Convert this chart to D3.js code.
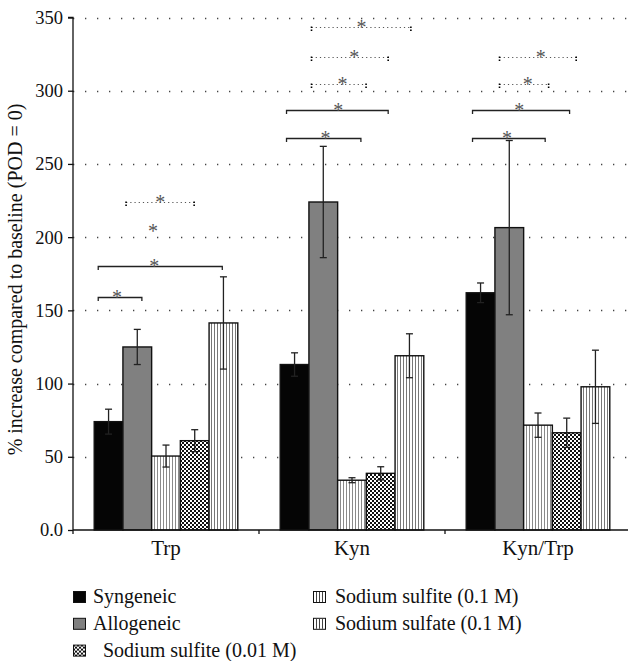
<!DOCTYPE html>
<html>
<head>
<meta charset="utf-8">
<script src="https://cdn.jsdelivr.net/npm/d3@7"></script>
<style>
  body { margin: 0; background: #fff; }
</style>
</head>
<body>
<div class="graph"></div>
<script>
const width = 628;
const height = 661;
const serif = "'Liberation Serif', 'Times New Roman', Times, 'DejaVu Serif', serif";

// data
const categories = ["Trp", "Kyn", "Kyn/Trp"];
const seriesNames = ["Syngeneic", "Allogeneic", "Sodium sulfite (0.1 M)", "Sodium sulfite (0.01 M)", "Sodium sulfate (0.1 M)"];
const syngeneic = [74, 113, 162];
const allogeneic = [125, 224, 206.5];
const sulfite01 = [50.5, 34, 71.6];
const sulfite001 = [61, 38.7, 66.4];
const sulfate = [141.4, 119, 97.8];
const syngeneicErr = [8.5, 8, 6.7];
const allogeneicErr = [12, 38, 59.5];
const sulfite01Err = [7.5, 1.7, 8.3];
const sulfite001Err = [7.5, 4.5, 10];
const sulfateErr = [31.5, 15, 25];
const yTicks = [0, 50, 100, 150, 200, 250, 300, 350];
const yTickLabels = ["0.0", "50", "100", "150", "200", "250", "300", "350"];

// significance marks: category, from bar, to bar (in bar widths), level, star position, line style
const brackets = [
  ["Trp", 0.14, 1.66, 159, 0.79, "solid"],
  ["Trp", 0.14, 4.46, 180.5, 2.09, "solid"],
  ["Trp", null, null, 204.5, 2.05, "none"],
  ["Trp", 1.11, 3.48, 224, 2.3, "dotted"],
  ["Kyn", 0.22, 2.81, 268, 1.58, "solid"],
  ["Kyn", 0.22, 3.76, 286.5, 2.02, "solid"],
  ["Kyn", 1.09, 2.99, 304.5, 2.17, "dotted"],
  ["Kyn", 1.09, 3.76, 323, 2.58, "dotted"],
  ["Kyn", 1.09, 4.55, 343.6, 2.83, "dotted"],
  ["Kyn/Trp", 0.22, 2.75, 268, 1.42, "solid"],
  ["Kyn/Trp", 0.22, 3.6, 286.5, 1.85, "solid"],
  ["Kyn/Trp", 1.16, 2.87, 304.5, 2.14, "dotted"],
  ["Kyn/Trp", 1.16, 3.83, 323, 2.6, "dotted"]
];

const means = [syngeneic, allogeneic, sulfite01, sulfite001, sulfate];
const errs = [syngeneicErr, allogeneicErr, sulfite01Err, sulfite001Err, sulfateErr];
const fills = ["#050505", "#808080", "url(#stripeA)", "url(#checker)", "url(#stripeB)"];

const rows = [];
categories.forEach((c, ci) => {
  seriesNames.forEach((s, si) => {
    rows.push({ cat: c, series: s, si: si, value: means[si][ci], err: errs[si][ci] });
  });
});

const svg = d3.select(".graph")
  .append("svg")
  .attr("width", width)
  .attr("height", height);

const defs = svg.append("defs");
const stripeA = defs.append("pattern").attr("id", "stripeA")
  .attr("patternUnits", "userSpaceOnUse").attr("width", 3).attr("height", 10);
stripeA.append("rect").attr("width", 3).attr("height", 10).attr("fill", "#fff");
stripeA.append("rect").attr("x", 1).attr("width", 1).attr("height", 10).attr("fill", "#8a8a8a");
const stripeB = defs.append("pattern").attr("id", "stripeB")
  .attr("patternUnits", "userSpaceOnUse").attr("width", 3).attr("height", 10);
stripeB.append("rect").attr("width", 3).attr("height", 10).attr("fill", "#fff");
stripeB.append("rect").attr("x", 1).attr("width", 1).attr("height", 10).attr("fill", "#777");
const checker = defs.append("pattern").attr("id", "checker")
  .attr("patternUnits", "userSpaceOnUse").attr("width", 4).attr("height", 4);
checker.append("rect").attr("width", 4).attr("height", 4).attr("fill", "#fff");
checker.append("rect").attr("width", 2).attr("height", 2).attr("fill", "#111");
checker.append("rect").attr("x", 2).attr("y", 2).attr("width", 2).attr("height", 2).attr("fill", "#111");

const y = d3.scaleLinear()
  .domain([0, 350])
  .range([530, 17.5]);

const x0 = d3.scaleBand()
  .domain(categories)
  .range([73, 631])
  .paddingInner(0.228)
  .paddingOuter(0.114);

const x1 = d3.scaleBand()
  .domain(seriesNames)
  .range([0, x0.bandwidth()]);

const unit = x1.bandwidth();

// dotted grid
svg.append("g")
  .selectAll("line")
  .data(yTicks.slice(1))
  .enter().append("line")
  .attr("x1", 73).attr("x2", 628)
  .attr("y1", d => Math.round(y(d)) + 0.5)
  .attr("y2", d => Math.round(y(d)) + 0.5)
  .attr("stroke", "#444")
  .attr("stroke-width", 1.3)
  .attr("stroke-dasharray", "1.3,10.7");

// bars
svg.append("g")
  .selectAll("rect")
  .data(rows)
  .enter().append("rect")
  .attr("x", d => x0(d.cat) + x1(d.series))
  .attr("y", d => y(d.value))
  .attr("width", unit)
  .attr("height", d => y(0) - y(d.value))
  .attr("fill", d => fills[d.si])
  .attr("stroke", "#111")
  .attr("stroke-width", 1.4);

// error bars
const eb = svg.append("g").attr("stroke", "#222").attr("stroke-width", 1.3);
rows.forEach(d => {
  const cx = x0(d.cat) + x1(d.series) + unit / 2;
  const top = y(d.value + d.err), bot = y(d.value - d.err);
  eb.append("line").attr("x1", cx).attr("x2", cx).attr("y1", top).attr("y2", bot);
  eb.append("line").attr("x1", cx - 3.5).attr("x2", cx + 3.5).attr("y1", top).attr("y2", top);
  eb.append("line").attr("x1", cx - 3.5).attr("x2", cx + 3.5).attr("y1", bot).attr("y2", bot);
});

// significance brackets
const sig = svg.append("g");
brackets.forEach(([cat, from, to, level, star, style]) => {
  const by = Math.round(y(level)) + 0.5;
  const bx = u => x0(cat) + u * unit;
  if (style === "solid") {
    sig.append("path")
      .attr("d", `M${bx(from)},${by + 3.5}V${by}H${bx(to)}V${by + 3.5}`)
      .attr("fill", "none").attr("stroke", "#222").attr("stroke-width", 1.3);
  } else if (style === "dotted") {
    sig.append("line")
      .attr("x1", bx(from)).attr("x2", bx(to)).attr("y1", by).attr("y2", by)
      .attr("stroke", "#555").attr("stroke-width", 1.2).attr("stroke-dasharray", "1.2,3");
    [from, to].forEach(u => {
      sig.append("line")
        .attr("x1", bx(u)).attr("x2", bx(u)).attr("y1", by - 1).attr("y2", by + 4)
        .attr("stroke", "#000").attr("stroke-width", 1.6).attr("stroke-dasharray", "1.6,1.4");
    });
  }
  sig.append("text")
    .attr("x", bx(star))
    .attr("y", by + 6)
    .attr("text-anchor", "middle")
    .style("font-family", serif)
    .style("font-size", "20px")
    .style("fill", "#555")
    .text("*");
});

// y axis
const yAxis = d3.axisLeft(y)
  .tickValues(yTicks)
  .tickFormat((d, i) => yTickLabels[i])
  .tickSize(5)
  .tickPadding(5);

svg.append("g")
  .attr("transform", "translate(73,0)")
  .call(yAxis)
  .attr("font-family", null)
  .attr("font-size", null)
  .call(g => g.select(".domain").attr("d", `M-5,${y(350)}H0V${y(0)}`).attr("stroke", "#111").attr("stroke-width", 1.3))
  .call(g => g.selectAll(".tick line").attr("stroke", "#111").attr("stroke-width", 1.3))
  .call(g => g.selectAll(".tick text").style("font-family", serif).style("font-size", "18.5px").attr("fill", "#111"));

svg.append("text")
  .attr("transform", "rotate(-90)")
  .attr("x", -279.5)
  .attr("y", 22)
  .attr("text-anchor", "middle")
  .style("font-family", serif)
  .style("font-size", "20px")
  .style("fill", "#111")
  .text("% increase compared to baseline (POD = 0)");

// x axis
const xAxis = d3.axisBottom(x0).tickSize(0).tickPadding(10);
svg.append("g")
  .attr("transform", "translate(0,530)")
  .call(xAxis)
  .attr("font-family", null)
  .attr("font-size", null)
  .call(g => g.select(".domain").attr("d", "M73,0H628").attr("stroke", "#111").attr("stroke-width", 1.3))
  .call(g => g.selectAll(".tick text").style("font-family", serif).style("font-size", "21px").attr("fill", "#111"));

// ticks between groups
const step = x0.step();
svg.append("g")
  .selectAll("line")
  .data(categories)
  .enter().append("line")
  .attr("x1", d => x0(d) - step * x0.paddingInner() / 2)
  .attr("x2", d => x0(d) - step * x0.paddingInner() / 2)
  .attr("y1", 530).attr("y2", 534)
  .attr("stroke", "#111").attr("stroke-width", 1.3);

// legend
const legendItems = [
  { si: 0, x: 73, row: 0, tx: 20 },
  { si: 1, x: 73, row: 1, tx: 20 },
  { si: 3, x: 73, row: 2, tx: 30 },
  { si: 2, x: 313, row: 0, tx: 22 },
  { si: 4, x: 313, row: 1, tx: 22 }
];
const legendFills = ["#050505", "#808080", "#fff", "url(#checker)", "#fff"];
const lg = svg.append("g");
legendItems.forEach(it => {
  const base = 603 + it.row * 26.8;
  const g = lg.append("g").attr("transform", `translate(${it.x},${base - 12})`);
  g.append("rect").attr("x", 0.5).attr("y", 0.5).attr("width", 12).attr("height", 11)
    .attr("fill", legendFills[it.si]).attr("stroke", "#111").attr("stroke-width", 1);
  if (it.si === 2 || it.si === 4) {
    [3.5, 6.5, 9.5].forEach(lx => {
      g.append("line").attr("x1", lx).attr("x2", lx).attr("y1", 1).attr("y2", 11)
        .attr("stroke", "#444").attr("stroke-width", 1);
    });
  }
  lg.append("text")
    .attr("x", it.x + it.tx)
    .attr("y", base)
    .style("font-family", serif)
    .style("font-size", "20px")
    .style("fill", "#111")
    .text(seriesNames[it.si]);
});
</script>
</body>
</html>
